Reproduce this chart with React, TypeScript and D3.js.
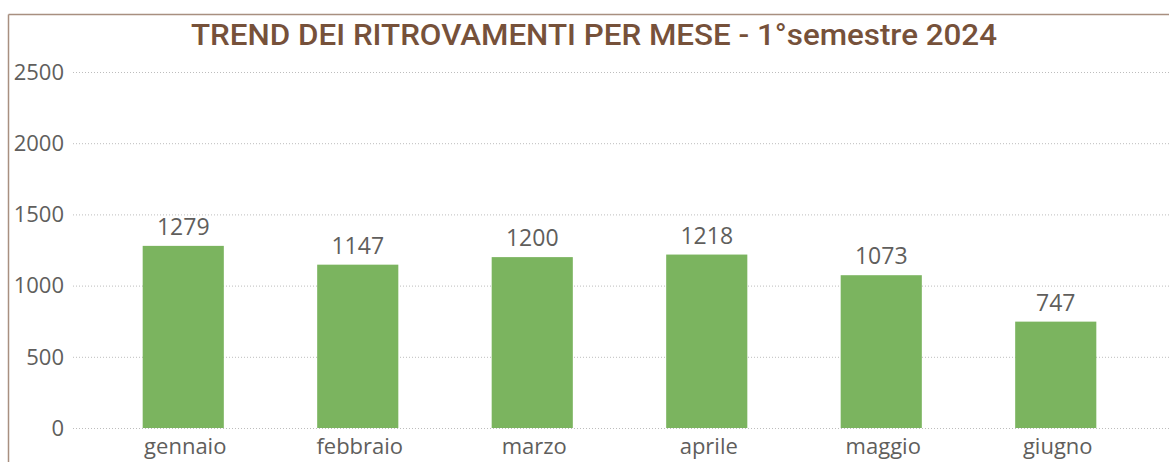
import { useEffect, useRef } from 'react'
import * as d3 from 'd3'

// Monthly counts, first half of 2024
const months = ['gennaio', 'febbraio', 'marzo', 'aprile', 'maggio', 'giugno']
const counts = [1279, 1147, 1200, 1218, 1073, 747]
const yTicks = [0, 500, 1000, 1500, 2000, 2500]
const title = 'TREND DEI RITROVAMENTI PER MESE - 1°semestre 2024'

const WIDTH = 1169
const HEIGHT = 462
const BAR_COLOR = '#7bb45f'
const TEXT_COLOR = '#605e5c'
const TITLE_COLOR = '#76513a'
const FRAME_COLOR = '#a88f80'

export default function App() {
  const svgRef = useRef<SVGSVGElement>(null)

  useEffect(() => {
    if (!svgRef.current) return
    const svg = d3.select(svgRef.current)
    svg.selectAll('*').remove()

    const font = '"Open Sans", "Noto Sans", sans-serif'

    // frame: left and top edges only
    svg.append('line')
      .attr('x1', 8.5).attr('x2', WIDTH)
      .attr('y1', 14.5).attr('y2', 14.5)
      .attr('stroke', FRAME_COLOR).attr('stroke-width', 1.5)
    svg.append('line')
      .attr('x1', 8.5).attr('x2', 8.5)
      .attr('y1', 14.5).attr('y2', HEIGHT)
      .attr('stroke', FRAME_COLOR).attr('stroke-width', 1.5)

    // title
    svg.append('text')
      .attr('x', 594)
      .attr('y', 45)
      .attr('text-anchor', 'middle')
      .attr('fill', TITLE_COLOR)
      .attr('font-family', 'Roboto, "DejaVu Sans", sans-serif')
      .attr('font-weight', 500)
      .attr('font-size', 30)
      .attr('textLength', 806)
      .attr('lengthAdjust', 'spacingAndGlyphs')
      .text(title)

    const x = d3.scaleBand<string>()
      .domain(months)
      .range([96, 1143])
      .paddingInner(0.535)
      .paddingOuter(0.2675)

    const y = d3.scaleLinear()
      .domain([0, 2500])
      .range([428, 72])

    // gridlines
    svg.append('g')
      .selectAll('line')
      .data(yTicks)
      .join('line')
      .attr('x1', 73)
      .attr('x2', WIDTH)
      .attr('y1', d => y(d) + 0.5)
      .attr('y2', d => y(d) + 0.5)
      .attr('stroke', '#bdbdbd')
      .attr('stroke-dasharray', '1,2')

    // y tick labels
    svg.append('g')
      .selectAll('text')
      .data(yTicks)
      .join('text')
      .attr('x', 64)
      .attr('y', d => y(d))
      .attr('dy', '0.35em')
      .attr('text-anchor', 'end')
      .attr('fill', TEXT_COLOR)
      .attr('font-family', font)
      .attr('font-size', 22)
      .text(d => d)

    // bars
    svg.append('g')
      .selectAll('rect')
      .data(counts)
      .join('rect')
      .attr('x', (_, i) => x(months[i])!)
      .attr('y', d => y(d))
      .attr('width', x.bandwidth())
      .attr('height', d => y(0) - y(d))
      .attr('fill', BAR_COLOR)

    // value labels
    svg.append('g')
      .selectAll('text')
      .data(counts)
      .join('text')
      .attr('x', (_, i) => x(months[i])! + x.bandwidth() / 2)
      .attr('y', d => y(d) - 11)
      .attr('text-anchor', 'middle')
      .attr('fill', TEXT_COLOR)
      .attr('font-family', font)
      .attr('font-size', 23)
      .text(d => d)

    // category labels
    svg.append('g')
      .selectAll('text')
      .data(months)
      .join('text')
      .attr('x', d => x(d)! + x.bandwidth() / 2 + 2)
      .attr('y', 454)
      .attr('text-anchor', 'middle')
      .attr('fill', TEXT_COLOR)
      .attr('font-family', font)
      .attr('font-size', 22)
      .text(d => d)
  }, [])

  return (
    <svg
      ref={svgRef}
      width={WIDTH}
      height={HEIGHT}
      style={{ position: 'absolute', left: 0, top: 0, background: '#fff' }}
    />
  )
}
